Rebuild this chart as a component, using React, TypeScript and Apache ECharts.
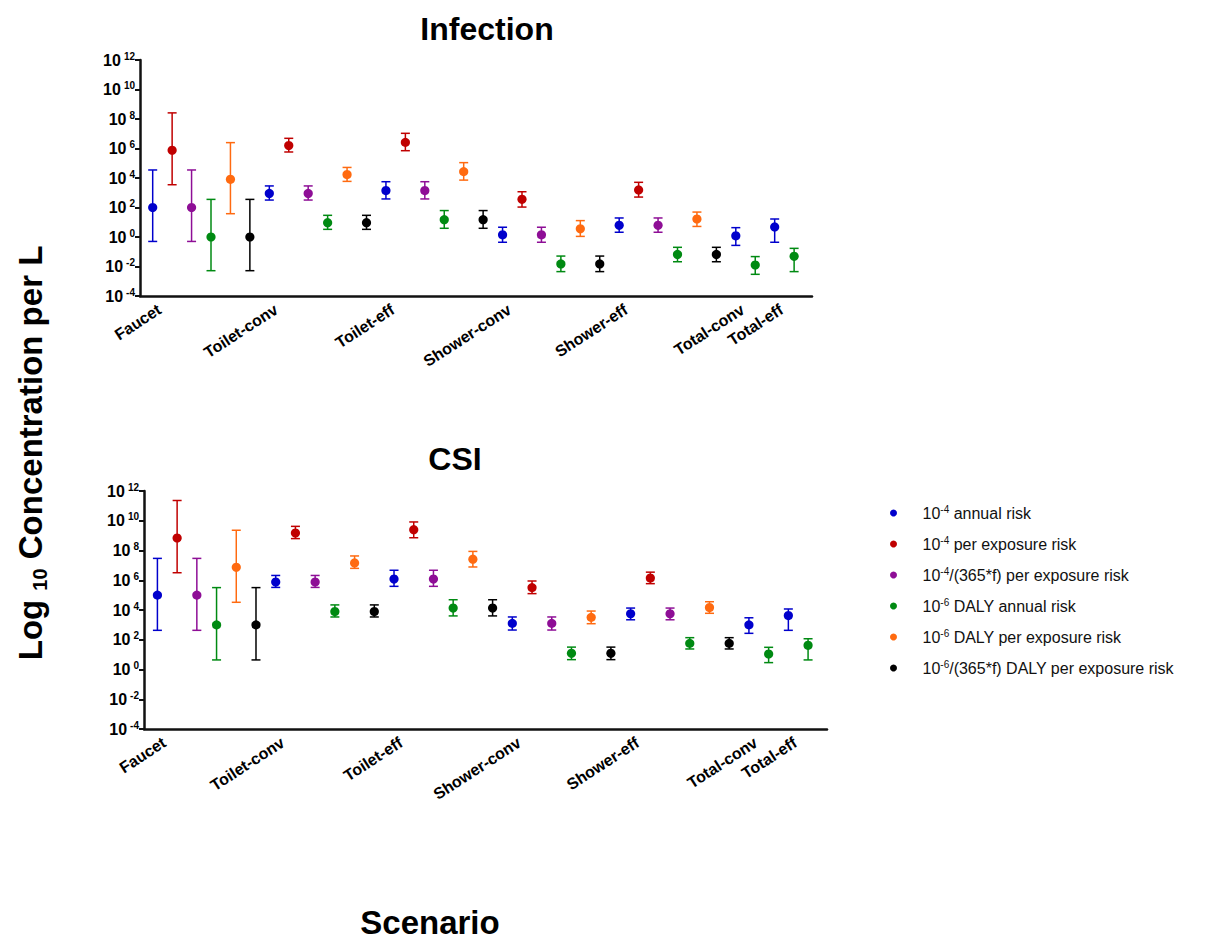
import React, { useEffect, useRef } from "react";
import * as echarts from "echarts";

// ---------- data ----------
const SCENARIOS = ["Faucet", "Toilet-conv", "Toilet-eff", "Shower-conv", "Shower-eff", "Total-conv", "Total-eff"];
const SCENARIO_POS = [0, 6, 12, 18, 24, 30, 32];
const Y_EXPONENTS = [-4, -2, 0, 2, 4, 6, 8, 10, 12];

const SERIES_NAMES = [
  "10-4 annual risk",
  "10-4 per exposure risk",
  "10-4/(365*f) per exposure risk",
  "10-6 DALY annual risk",
  "10-6 DALY per exposure risk",
  "10-6/(365*f) DALY per exposure risk",
];
const LEGEND_EXP = ["-4", "-4", "-4", "-6", "-6", "-6"];
const LEGEND_REST = [
  " annual risk",
  " per exposure risk",
  "/(365*f) per exposure risk",
  " DALY annual risk",
  " DALY per exposure risk",
  "/(365*f) DALY per exposure risk",
];
const COLORS = ["#0000CC", "#C00000", "#8E0E96", "#008A12", "#FF6A10", "#000000"];

// x positions of each series (slot index along the axis)
const POS_ANNUAL = [0, 6, 12, 18, 24, 30, 32];
const POS_PER_EXP = [1, 7, 13, 19, 25];
const POS_PER_EXP_F = [2, 8, 14, 20, 26];
const POS_DALY_ANNUAL = [3, 9, 15, 21, 27, 31, 33];
const POS_DALY_PER_EXP = [4, 10, 16, 22, 28];
const POS_DALY_PER_EXP_F = [5, 11, 17, 23, 29];

// [value, lower, upper]  (concentration per L)
const INF_ANNUAL = [[1e2, 0.5, 3.5e4], [9e2, 3.2e2, 2.9e3], [1.4e3, 3.8e2, 5.6e3], [1.4, 0.44, 4.6], [6.2, 2.1, 19.5], [1.2, 0.27, 4.3], [4.8, 0.44, 16.6]];
const INF_PER_EXP = [[7.6e5, 3.5e3, 2.6e8], [1.6e6, 5.8e5, 4.9e6], [2.6e6, 7.1e5, 1.07e7], [3.6e2, 1.07e2, 1.17e3], [1.55e3, 5.1e2, 5.1e3]];
const INF_PER_EXP_F = [[1e2, 0.5, 3.5e4], [9e2, 3.2e2, 2.9e3], [1.4e3, 3.8e2, 5.6e3], [1.4, 0.44, 4.6], [6.2, 2.1, 19.5]];
const INF_DALY_ANNUAL = [[1, 5.2e-3, 355], [9.3, 3.3, 29.5], [15, 3.9, 62], [0.015, 4.5e-3, 0.051], [0.066, 0.021, 0.2], [0.0126, 2.95e-3, 0.047], [0.049, 4.5e-3, 0.17]];
const INF_DALY_PER_EXP = [[8.1e3, 38, 2.5e6], [1.7e4, 5.9e3, 5.2e4], [2.7e4, 7.2e3, 1.1e5], [3.6, 1.1, 12.9], [16.6, 5.2, 49]];
const INF_DALY_PER_EXP_F = [[1, 5.2e-3, 355], [9.3, 3.3, 29.5], [15, 3.9, 62], [0.015, 4.5e-3, 0.051], [0.066, 0.021, 0.2]];

const CSI_ANNUAL = [[1e5, 4.3e2, 2.95e7], [7.6e5, 3.3e5, 2.1e6], [1.2e6, 3.9e5, 4.7e6], [1.26e3, 4.5e2, 3.4e3], [5.6e3, 2.2e3, 1.35e4], [1.0e3, 2.7e2, 3.0e3], [4.2e3, 4.3e2, 1.17e4]];
const CSI_PER_EXP = [[6.9e8, 3.2e6, 2.3e11], [1.5e9, 6.3e8, 4.2e9], [2.5e9, 7.2e8, 8.3e9], [3.2e5, 1.26e5, 8.9e5], [1.4e6, 5.9e5, 3.5e6]];
const CSI_PER_EXP_F = [[1e5, 4.3e2, 2.95e7], [7.6e5, 3.3e5, 2.1e6], [1.2e6, 3.9e5, 4.7e6], [1.26e3, 4.5e2, 3.4e3], [5.6e3, 2.2e3, 1.35e4]];
const CSI_DALY_ANNUAL = [[1e3, 4.4, 3.2e5], [7.8e3, 3.4e3, 2.2e4], [1.35e4, 4e3, 4.9e4], [12.3, 4.6, 32], [57, 24, 138], [11, 2.9, 31], [42, 4.4, 117]];
const CSI_DALY_PER_EXP = [[7.4e6, 3.3e4, 2.3e9], [1.45e7, 6.3e6, 4.3e7], [2.6e7, 7.8e6, 8.7e7], [3.2e3, 1.2e3, 8.5e3], [1.45e4, 6e3, 3.6e4]];
const CSI_DALY_PER_EXP_F = [[1e3, 4.4, 3.2e5], [7.8e3, 3.4e3, 2.2e4], [1.35e4, 4e3, 4.9e4], [12.3, 4.6, 32], [57, 24, 138]];

const POSITIONS = [POS_ANNUAL, POS_PER_EXP, POS_PER_EXP_F, POS_DALY_ANNUAL, POS_DALY_PER_EXP, POS_DALY_PER_EXP_F];
const INF_DATA = [INF_ANNUAL, INF_PER_EXP, INF_PER_EXP_F, INF_DALY_ANNUAL, INF_DALY_PER_EXP, INF_DALY_PER_EXP_F];
const CSI_DATA = [CSI_ANNUAL, CSI_PER_EXP, CSI_PER_EXP_F, CSI_DALY_ANNUAL, CSI_DALY_PER_EXP, CSI_DALY_PER_EXP_F];

const FONT = "'Liberation Sans', Arial, sans-serif";
const lg = (v: number) => Math.log10(v);

function renderErrorBar(params: any, api: any) {
  const x = api.value(0);
  const p = api.coord([x, api.value(1)]);
  const pl = api.coord([x, api.value(2)]);
  const ph = api.coord([x, api.value(3)]);
  const color = api.visual("color");
  const hw = 4.5;
  const lw = 1.5;
  return {
    type: "group",
    children: [
      { type: "line", shape: { x1: p[0], y1: ph[1], x2: p[0], y2: pl[1] }, style: { stroke: color, lineWidth: lw } },
      { type: "line", shape: { x1: p[0] - hw, y1: ph[1], x2: p[0] + hw, y2: ph[1] }, style: { stroke: color, lineWidth: lw } },
      { type: "line", shape: { x1: p[0] - hw, y1: pl[1], x2: p[0] + hw, y2: pl[1] }, style: { stroke: color, lineWidth: lw } },
      { type: "circle", shape: { cx: p[0], cy: p[1], r: 4.6 }, style: { fill: color } },
    ],
  };
}

function buildSeries(panelData: number[][][], axisIndex: number) {
  return SERIES_NAMES.map((name, si) => ({
    type: "custom",
    name,
    xAxisIndex: axisIndex,
    yAxisIndex: axisIndex,
    itemStyle: { color: COLORS[si] },
    renderItem: renderErrorBar,
    encode: { x: 0, y: [1, 2, 3] },
    data: panelData[si].map((d, i) => [POSITIONS[si][i], lg(d[0]), lg(d[1]), lg(d[2])]),
    z: 3,
  }));
}

function xAxis(gridIndex: number, min: number, max: number) {
  return {
    type: "value",
    gridIndex,
    min,
    max,
    splitLine: { show: false },
    axisLine: { show: true, onZero: false, lineStyle: { color: "#111", width: 2.5 } },
    axisTick: { show: false },
    axisLabel: {
      show: true,
      customValues: SCENARIO_POS.map((p) => p + 0.35),
      formatter: (v: number) => SCENARIOS[SCENARIO_POS.indexOf(Math.round(v - 0.35))] ?? "",
      rotate: 33,
      margin: 12,
      fontSize: 16,
      fontWeight: "bold",
      color: "#000",
      fontFamily: FONT,
    },
  };
}

function yAxis(gridIndex: number) {
  return {
    type: "value",
    gridIndex,
    min: -4,
    max: 12,
    interval: 2,
    splitLine: { show: false },
    axisLine: { show: true, onZero: false, lineStyle: { color: "#111", width: 2.5 } },
    axisTick: { show: true, length: 5, lineStyle: { color: "#111", width: 2 } },
    axisLabel: {
      margin: 5,
      customValues: Y_EXPONENTS,
      formatter: (v: number) => `{b|10}{s|${Math.round(v)}}`,
      rich: {
        b: { fontSize: 16, fontWeight: "bold", color: "#000", fontFamily: FONT, lineHeight: 18 },
        s: { fontSize: 10, fontWeight: "bold", color: "#000", fontFamily: FONT, lineHeight: 10, verticalAlign: "top", padding: [0, 0, 0, 3] },
      },
    },
  };
}

export default function App() {
  const ref = useRef<HTMLDivElement>(null);
  useEffect(() => {
    if (!ref.current) return;
    const chart = echarts.init(ref.current, undefined, { renderer: "svg" });
    const option: any = {
      animation: false,
      backgroundColor: "#fff",
      grid: [
        { left: 140, top: 60, width: 672, height: 236 },
        { left: 144, top: 491, width: 683, height: 238 },
      ],
      xAxis: [xAxis(0, -0.653, 33.92), xAxis(1, -0.68, 33.96)],
      yAxis: [yAxis(0), yAxis(1)],
      legend: {
        orient: "vertical",
        left: 885,
        top: 499,
        itemWidth: 48,
        itemHeight: 7,
        itemGap: 14,
        icon: "circle",
        data: SERIES_NAMES,
        formatter: (name: string) => {
          const i = SERIES_NAMES.indexOf(name);
          return `{b|10}{s|${LEGEND_EXP[i]}}{b|${LEGEND_REST[i]}}`;
        },
        textStyle: {
          rich: {
            b: { fontSize: 16, color: "#111", fontFamily: FONT, lineHeight: 18 },
            s: { fontSize: 10, color: "#111", fontFamily: FONT, lineHeight: 10, verticalAlign: "top" },
          },
        },
      },
      graphic: [
        {
          type: "text",
          x: 487,
          y: 29,
          style: { text: "Infection", font: `bold 32px ${FONT}`, fill: "#000", align: "center", verticalAlign: "middle" },
        },
        {
          type: "text",
          x: 455,
          y: 459,
          style: { text: "CSI", font: `bold 32px ${FONT}`, fill: "#000", align: "center", verticalAlign: "middle" },
        },
        {
          type: "text",
          x: 430,
          y: 922,
          style: { text: "Scenario", font: `bold 33px ${FONT}`, fill: "#000", align: "center", verticalAlign: "middle" },
        },
        {
          type: "text",
          x: 30,
          y: 453,
          rotation: Math.PI / 2,
          style: {
            text: "{a|Log }{s|10}{a| Concentration per L}",
            align: "center",
            verticalAlign: "middle",
            rich: {
              a: { fontSize: 33, fontWeight: "bold", fill: "#000", fontFamily: FONT, lineHeight: 40, verticalAlign: "middle" },
              s: { fontSize: 20, fontWeight: "bold", fill: "#000", fontFamily: FONT, lineHeight: 20, verticalAlign: "bottom" },
            },
          },
        },
      ],
      series: [...buildSeries(INF_DATA, 0), ...buildSeries(CSI_DATA, 1)],
    };
    chart.setOption(option);
    return () => chart.dispose();
  }, []);
  return <div ref={ref} style={{ position: "fixed", left: 0, top: 0, width: 1209, height: 942 }} />;
}
